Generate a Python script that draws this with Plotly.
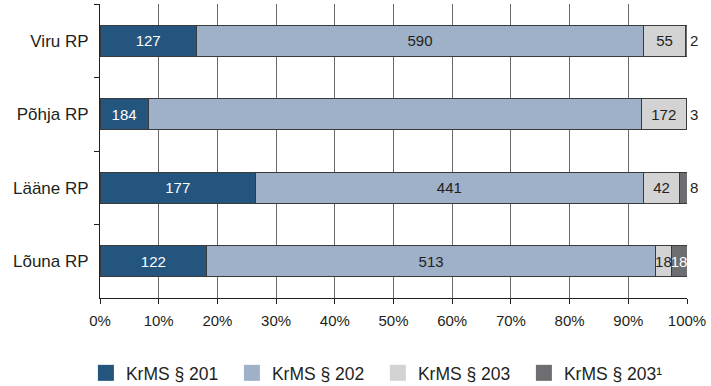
import plotly.graph_objects as go

regions = ["Viru RP", "Põhja RP", "Lääne RP", "Lõuna RP"]
series_names = ["KrMS § 201", "KrMS § 202", "KrMS § 203", "KrMS § 203¹"]
s201 = [127, 184, 177, 122]
s202 = [590, 1885, 441, 513]
s203 = [55, 172, 42, 18]
s2031 = [2, 3, 8, 18]

labels201 = ["127", "184", "177", "122"]
labels202 = ["590", "", "441", "513"]
labels203 = ["55", "172", "42", "18"]
labels2031 = ["2", "3", "8", "18"]

colors = ["#23557e", "#9fb1c9", "#d3d3d4", "#6d6e71"]
text_colors = ["#ffffff", "#231f20", "#231f20", "#ffffff"]
INK = "#231f20"
FONT = "Liberation Sans, Arial, sans-serif"

fig = go.Figure()
all_vals = [s201, s202, s203, s2031]
all_labels = [labels201, labels202, labels203, labels2031]
for i in range(4):
    tp = ["outside", "outside", "outside", "inside"] if i == 3 else "inside"
    fig.add_trace(go.Bar(
        y=regions, x=all_vals[i], orientation="h", name=series_names[i],
        marker=dict(color=colors[i], line=dict(color="#3a3a3a", width=1)),
        text=all_labels[i], texttemplate="%{text}", textposition=tp,
        insidetextanchor="middle", constraintext="none", cliponaxis=False,
        insidetextfont=dict(family=FONT, size=15, color=text_colors[i]),
        outsidetextfont=dict(family=FONT, size=15, color=INK),
        hoverinfo="skip", showlegend=False,
    ))

# legend entries (large square swatches)
for i in range(4):
    fig.add_trace(go.Scatter(
        x=[None], y=[None], mode="markers", name=series_names[i],
        marker=dict(symbol="square", size=16, color=colors[i], line=dict(width=0)),
        showlegend=True, hoverinfo="skip",
    ))

fig.update_layout(
    width=711, height=386,
    barmode="stack", barnorm="percent", bargap=0.58,
    margin=dict(l=100, r=24, t=4, b=88, autoexpand=False),
    paper_bgcolor="white", plot_bgcolor="white",
    font=dict(family=FONT, size=15, color=INK),
    showlegend=True,
    legend=dict(orientation="h", x=-0.024, xanchor="left", y=-0.255, yanchor="middle",
                traceorder="normal", font=dict(family=FONT, size=17.5, color=INK),
                entrywidth=101, entrywidthmode="pixels", itemsizing="trace",
                bgcolor="rgba(0,0,0,0)"),
)
fig.update_xaxes(
    range=[0, 100], dtick=10, ticksuffix="%", showgrid=True, gridcolor="#6a6a6a", gridwidth=1,
    showline=True, linecolor=INK, linewidth=1, ticks="outside", ticklen=5,
    tickcolor=INK, tickfont=dict(family=FONT, size=15, color=INK),
    ticklabelstandoff=4, zeroline=False, fixedrange=True, automargin=False,
)
fig.update_yaxes(
    categoryorder="array", categoryarray=regions, autorange="reversed",
    showline=True, linecolor=INK, linewidth=1, ticks="outside", ticklen=5,
    tickson="boundaries", tickcolor=INK, showgrid=False,
    tickfont=dict(family=FONT, size=17, color=INK), ticklabelstandoff=7,
    fixedrange=True, automargin=False,
)
fig.write_html("out.html", config={"displayModeBar": False},
               post_script="document.body.style.margin='0';")
